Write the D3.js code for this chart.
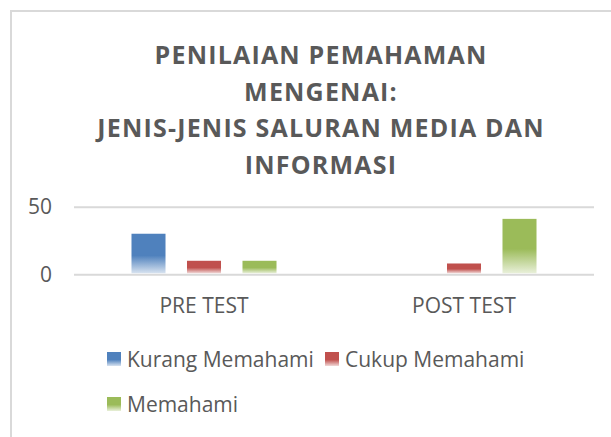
<!DOCTYPE html>
<html>
<head>
<meta charset="utf-8">
<script src="https://cdn.jsdelivr.net/npm/d3@7"></script>
<style>
  body { margin: 0; background: #fff; }
  text { font-family: "Open Sans", sans-serif; fill: #595959; }
</style>
</head>
<body>
<div id="chart"></div>
<script>
// chart values
var categories = ["PRE TEST", "POST TEST"];
var seriesNames = ["Kurang Memahami", "Cukup Memahami", "Memahami"];
var kurang = [30, 0];
var cukup = [10, 8];
var memahami = [10, 41];
var yTicks = [0, 50];
var titleLines = ["PENILAIAN PEMAHAMAN", "MENGENAI:", "JENIS-JENIS SALURAN MEDIA DAN", "INFORMASI"];

var colors = ["#4F81BD", "#C0504D", "#9BBB59"];
var seriesValues = [kurang, cukup, memahami];

var width = 611, height = 437;
var plot = {left: 74, right: 594, top: 206.7, bottom: 274.3};

var svg = d3.select("#chart").append("svg")
  .attr("width", width).attr("height", height);

// fading gradients like the office chart style
var defs = svg.append("defs");
colors.forEach(function(c, i){
  var g = defs.append("linearGradient").attr("id", "grad" + i)
    .attr("x1", 0).attr("y1", 0).attr("x2", 0).attr("y2", 1);
  g.append("stop").attr("offset", "0%").attr("stop-color", c);
  g.append("stop").attr("offset", "55%").attr("stop-color", c);
  g.append("stop").attr("offset", "100%").attr("stop-color", d3.interpolateRgb(c, "#fff")(0.78));
});

// frame (right and bottom run off the picture)
svg.append("rect").attr("x", 11).attr("y", 11)
  .attr("width", 700).attr("height", 500)
  .style("fill", "none").style("stroke", "#D9D9D9").style("stroke-width", 2);

// title
var title = svg.append("text")
  .attr("text-anchor", "middle")
  .style("font-size", "25px").style("font-weight", "bold")
  .style("letter-spacing", "1.2px");
titleLines.forEach(function(t, i){
  title.append("tspan").attr("x", 321).attr("y", 64 + i * 36.5).text(t);
});

var y = d3.scaleLinear().domain([0, 50]).range([plot.bottom, plot.top]);
var x0 = d3.scaleBand().domain(categories).range([plot.left, plot.right]);
var x1 = d3.scaleBand().domain(seriesNames).range([0, x0.bandwidth()])
  .paddingInner(0.387).paddingOuter(1.036);

var yAxis = svg.append("g").attr("transform", "translate(" + plot.left + ",0)")
  .call(d3.axisLeft(y).tickValues(yTicks).tickSize(-(plot.right - plot.left)).tickPadding(22));
yAxis.select(".domain").remove();
yAxis.selectAll("line").style("stroke", "#D9D9D9").style("stroke-width", 2);
yAxis.selectAll("text").style("font-size", "21px").style("fill", "#595959");

var groups = svg.selectAll("g.cat").data(categories).enter().append("g")
  .attr("class", "cat")
  .attr("transform", function(d){ return "translate(" + x0(d) + ",0)"; });

groups.selectAll("rect").data(function(d, ci){
    return seriesNames.map(function(s, si){ return {s: s, si: si, v: seriesValues[si][ci]}; });
  }).enter().append("rect")
  .attr("x", function(d){ return x1(d.s); })
  .attr("y", function(d){ return y(d.v); })
  .attr("width", x1.bandwidth())
  .attr("height", function(d){ return Math.max(0, y(0) - y(d.v) - 1); })
  .style("fill", function(d){ return "url(#grad" + d.si + ")"; });

var xAxis = svg.append("g").attr("transform", "translate(0," + plot.bottom + ")")
  .call(d3.axisBottom(x0).tickSize(0).tickPadding(24));
xAxis.select(".domain").remove();
xAxis.selectAll("text").style("font-size", "21px").style("fill", "#595959");

// legend
var legendPos = [{x: 107, y: 352}, {x: 325, y: 352}, {x: 107, y: 397}];
var legend = svg.selectAll("g.leg").data(seriesNames).enter().append("g")
  .attr("class", "leg")
  .attr("transform", function(d, i){ return "translate(" + legendPos[i].x + "," + legendPos[i].y + ")"; });
legend.append("rect").attr("width", 14).attr("height", 14)
  .style("fill", function(d, i){ return "url(#grad" + i + ")"; });
legend.append("text").attr("x", 20).attr("y", 14.8)
  .style("font-size", "21px").text(function(d){ return d; });
</script>
</body>
</html>
